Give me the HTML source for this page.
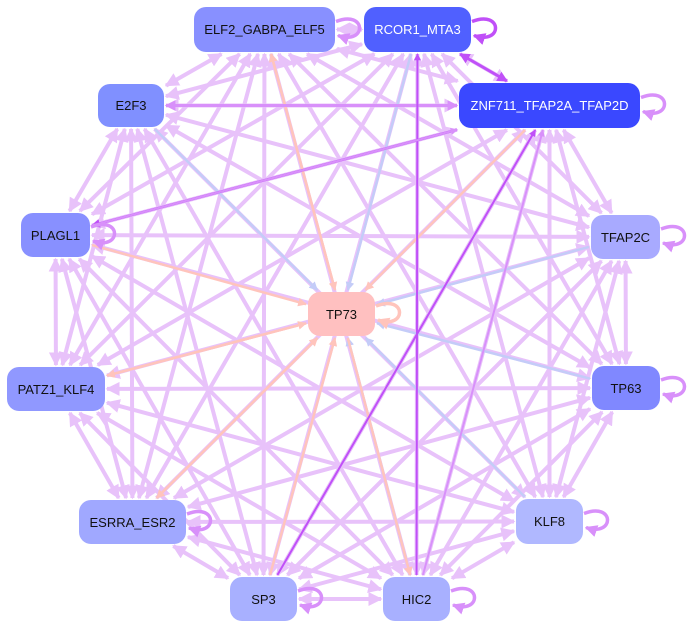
<!DOCTYPE html>
<html><head><meta charset="utf-8"><style>
body{margin:0;background:#fff;width:692px;height:629px;overflow:hidden;position:relative;font-family:"Liberation Sans",Arial,sans-serif}
svg{position:absolute;left:0;top:0}
.n{position:absolute;border-radius:12px;display:flex;align-items:center;justify-content:center;font-size:13px;color:#111}
.w{color:#fff}
</style></head><body>
<svg id="s" width="692" height="629"></svg>
<div class="n" style="left:194px;top:7px;width:141px;height:45px;background:#8890ff">ELF2_GABPA_ELF5</div>
<div class="n w" style="left:364px;top:7px;width:107px;height:45px;background:#5060ff">RCOR1_MTA3</div>
<div class="n w" style="left:459px;top:83px;width:181px;height:45px;background:#3a48ff">ZNF711_TFAP2A_TFAP2D</div>
<div class="n" style="left:98px;top:84px;width:66px;height:43px;background:#8090ff">E2F3</div>
<div class="n" style="left:21px;top:213px;width:69px;height:44px;background:#8890ff">PLAGL1</div>
<div class="n" style="left:591px;top:215px;width:69px;height:44px;background:#a8aaff">TFAP2C</div>
<div class="n" style="left:308px;top:292px;width:67px;height:44px;background:#ffc0c0">TP73</div>
<div class="n" style="left:7px;top:367px;width:98px;height:44px;background:#9098ff">PATZ1_KLF4</div>
<div class="n" style="left:592px;top:366px;width:68px;height:44px;background:#8088ff">TP63</div>
<div class="n" style="left:79px;top:500px;width:107px;height:44px;background:#a0a8ff">ESRRA_ESR2</div>
<div class="n" style="left:516px;top:499px;width:67px;height:45px;background:#b0b8ff">KLF8</div>
<div class="n" style="left:230px;top:577px;width:67px;height:44px;background:#a8b0ff">SP3</div>
<div class="n" style="left:383px;top:577px;width:67px;height:44px;background:#a8b0ff">HIC2</div>
<script>
var N={ELF:[194,7,141,45],RC:[364,7,107,45],ZN:[459,83,181,45],E2:[98,84,66,43],PL:[21,213,69,44],TC:[591,215,69,44],T73:[308,292,67,44],PA:[7,367,98,44],T63:[592,366,68,44],ES:[79,500,107,44],KL:[516,499,67,45],SP:[230,577,67,44],HI:[383,577,67,44]};
var s=document.getElementById('s'),ns='http://www.w3.org/2000/svg';
function el(t,a){var e=document.createElementNS(ns,t);for(var k in a)e.setAttribute(k,a[k]);s.appendChild(e);return e;}
var d=el('defs',{});
var cols={l:'#e8c2fa',p:'#c050f8',r:'#ffc4bc',b:'#c4ccf8',m:'#d890fa'};
for(var c in cols){var m=document.createElementNS(ns,'marker');m.setAttribute('id','m'+c);m.setAttribute('viewBox','0 0 10 10');m.setAttribute('refX','9');m.setAttribute('refY','5');m.setAttribute('markerWidth','3.5');m.setAttribute('markerHeight','3.5');m.setAttribute('orient','auto-start-reverse');var p=document.createElementNS(ns,'path');p.setAttribute('d','M0,0L10,5L0,10z');p.setAttribute('fill',cols[c]);m.appendChild(p);d.appendChild(m);}
function ctr(n){var b=N[n];return[b[0]+b[2]/2,b[1]+b[3]/2];}
function edge(n,x,y,dx,dy){var b=N[n],hw=b[2]/2+2,hh=b[3]/2+2;var t=Math.min(Math.abs(dx)>0?hw/Math.abs(dx):1e9,Math.abs(dy)>0?hh/Math.abs(dy):1e9);return[x+dx*t,y+dy*t];}
function line(a,b,c,w,both){var A=ctr(a),B=ctr(b);var dx=B[0]-A[0],dy=B[1]-A[1];var p=edge(a,A[0],A[1],dx,dy),q=edge(b,B[0],B[1],-dx,-dy);var o={x1:p[0],y1:p[1],x2:q[0],y2:q[1],stroke:cols[c],'stroke-width':w,'marker-end':'url(#m'+c+')'};if(both)o['marker-start']='url(#m'+c+')';el('line',o);}
var keys=Object.keys(N);
for(var i=0;i<keys.length;i++)for(var j=i+1;j<keys.length;j++){if(keys[i]=='T73'||keys[j]=='T73')continue;line(keys[i],keys[j],'l',4,true);}
['ELF','RC','ZN','E2','PL','TC','PA','T63','ES','KL','SP','HI'].forEach(function(k,i){line(k,'T73',i%2?'b':'r',2.5,false);});
line('T73','PA','r',2.5,false);line('T73','ES','r',2.5,false);line('T73','HI','r',2.5,false);line('T73','ELF','r',2.5,false);
line('RC','ZN','p',3,true);line('ZN','E2','m',3,true);line('ZN','PL','p',2.5,false);line('HI','RC','p',2,false);line('SP','ZN','p',2,false);line('HI','ZN','m',2,false);line('PL','ZN','m',2,false);
function loop(n,c){var b=N[n],x=b[0]+b[2],y=b[1]+b[3]/2;el('path',{d:'M'+(x+1)+','+(y-8)+' C'+(x+32)+','+(y-20)+' '+(x+32)+','+(y+16)+' '+(x+3)+','+(y+6),fill:'none',stroke:cols[c],'stroke-width':3.5,'marker-end':'url(#m'+c+')'});}
['ELF','ZN','PL','TC','T63','KL','SP','HI','ES'].forEach(function(k){loop(k,'m');});loop('RC','p');loop('T73','r');
</script>
</body></html>
